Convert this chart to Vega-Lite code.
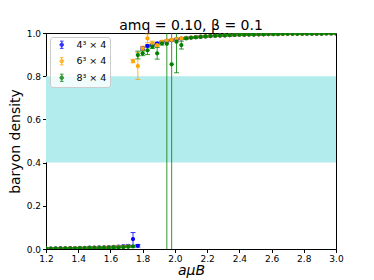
{
"$schema":"https://vega.github.io/schema/vega-lite/v6.json",
"width":290,"height":216,
"autosize":{"type":"none"},
"padding":{"left":46,"top":33,"right":38,"bottom":31},
"background":"white",
"title":{"text":"amq = 0.10, β = 0.1","fontSize":14,"fontWeight":"normal","font":"DejaVu Sans","color":"black","offset":-2,"dy":2,"anchor":"middle"},
"config":{
"view":{"stroke":"black","strokeWidth":1},
"axis":{"domainColor":"black","tickColor":"black","labelColor":"black","titleColor":"black","labelFont":"DejaVu Sans","titleFont":"DejaVu Sans","labelFontSize":9,"titleFontSize":14,"titleFontWeight":"normal","tickSize":3.5,"grid":false,"labelPadding":2,"labelOverlap":false,"labelFlush":false},
"legend":{"orient":"top-left","offset":4,"padding":3,"symbolOffset":4,"labelOffset":10,"rowPadding":4.5,"labelFontSize":9.5,"labelFont":"DejaVu Sans","labelColor":"black","strokeColor":"#cccccc","fillColor":"rgba(255,255,255,0.8)","cornerRadius":2.5,"symbolSize":64,"symbolStrokeWidth":1}
},
"datasets":{"d":[
{"L":"4³ × 4","x":1.20,"y":0.002,"e":0.003},{"L":"4³ × 4","x":1.23,"y":0.002,"e":0.003},{"L":"4³ × 4","x":1.26,"y":0.003,"e":0.003},{"L":"4³ × 4","x":1.29,"y":0.003,"e":0.003},{"L":"4³ × 4","x":1.32,"y":0.003,"e":0.003},{"L":"4³ × 4","x":1.35,"y":0.004,"e":0.003},{"L":"4³ × 4","x":1.38,"y":0.004,"e":0.003},{"L":"4³ × 4","x":1.41,"y":0.005,"e":0.003},{"L":"4³ × 4","x":1.44,"y":0.005,"e":0.003},{"L":"4³ × 4","x":1.47,"y":0.006,"e":0.003},{"L":"4³ × 4","x":1.50,"y":0.006,"e":0.003},{"L":"4³ × 4","x":1.53,"y":0.007,"e":0.003},{"L":"4³ × 4","x":1.56,"y":0.008,"e":0.003},{"L":"4³ × 4","x":1.59,"y":0.009,"e":0.003},{"L":"4³ × 4","x":1.62,"y":0.010,"e":0.003},{"L":"4³ × 4","x":1.65,"y":0.011,"e":0.003},{"L":"4³ × 4","x":1.68,"y":0.013,"e":0.003},{"L":"4³ × 4","x":1.71,"y":0.015,"e":0.004},{"L":"4³ × 4","x":1.74,"y":0.046,"e":0.03},{"L":"4³ × 4","x":1.77,"y":0.015,"e":0.006},{"L":"4³ × 4","x":1.80,"y":0.929,"e":0.006},{"L":"4³ × 4","x":1.83,"y":0.940,"e":0.005},{"L":"4³ × 4","x":1.86,"y":0.944,"e":0.005},{"L":"4³ × 4","x":1.89,"y":0.952,"e":0.004},{"L":"4³ × 4","x":1.92,"y":0.958,"e":0.004},{"L":"4³ × 4","x":1.95,"y":0.963,"e":0.004},{"L":"4³ × 4","x":1.98,"y":0.967,"e":0.004},{"L":"4³ × 4","x":2.01,"y":0.971,"e":0.004},{"L":"4³ × 4","x":2.04,"y":0.974,"e":0.003},{"L":"4³ × 4","x":2.07,"y":0.977,"e":0.003},{"L":"4³ × 4","x":2.10,"y":0.979,"e":0.003},{"L":"4³ × 4","x":2.13,"y":0.981,"e":0.003},{"L":"4³ × 4","x":2.16,"y":0.983,"e":0.003},{"L":"4³ × 4","x":2.19,"y":0.984,"e":0.003},{"L":"4³ × 4","x":2.22,"y":0.986,"e":0.003},{"L":"4³ × 4","x":2.25,"y":0.987,"e":0.003},{"L":"4³ × 4","x":2.28,"y":0.988,"e":0.003},{"L":"4³ × 4","x":2.31,"y":0.989,"e":0.003},{"L":"4³ × 4","x":2.34,"y":0.990,"e":0.003},{"L":"4³ × 4","x":2.37,"y":0.991,"e":0.003},{"L":"4³ × 4","x":2.40,"y":0.992,"e":0.003},{"L":"4³ × 4","x":2.43,"y":0.992,"e":0.003},{"L":"4³ × 4","x":2.46,"y":0.993,"e":0.003},{"L":"4³ × 4","x":2.49,"y":0.993,"e":0.003},{"L":"4³ × 4","x":2.52,"y":0.994,"e":0.003},{"L":"4³ × 4","x":2.55,"y":0.994,"e":0.003},{"L":"4³ × 4","x":2.58,"y":0.995,"e":0.003},{"L":"4³ × 4","x":2.61,"y":0.995,"e":0.003},{"L":"4³ × 4","x":2.64,"y":0.995,"e":0.003},{"L":"4³ × 4","x":2.67,"y":0.996,"e":0.003},{"L":"4³ × 4","x":2.70,"y":0.996,"e":0.003},{"L":"4³ × 4","x":2.73,"y":0.996,"e":0.003},{"L":"4³ × 4","x":2.76,"y":0.996,"e":0.003},{"L":"4³ × 4","x":2.79,"y":0.997,"e":0.003},{"L":"4³ × 4","x":2.82,"y":0.997,"e":0.003},{"L":"4³ × 4","x":2.85,"y":0.997,"e":0.003},{"L":"4³ × 4","x":2.88,"y":0.997,"e":0.003},{"L":"4³ × 4","x":2.91,"y":0.997,"e":0.003},{"L":"4³ × 4","x":2.94,"y":0.998,"e":0.003},{"L":"4³ × 4","x":2.97,"y":0.998,"e":0.003},{"L":"4³ × 4","x":3.00,"y":0.998,"e":0.003},
{"L":"6³ × 4","x":1.20,"y":0.002,"e":0.003},{"L":"6³ × 4","x":1.23,"y":0.002,"e":0.003},{"L":"6³ × 4","x":1.26,"y":0.002,"e":0.003},{"L":"6³ × 4","x":1.29,"y":0.003,"e":0.003},{"L":"6³ × 4","x":1.32,"y":0.003,"e":0.003},{"L":"6³ × 4","x":1.35,"y":0.003,"e":0.003},{"L":"6³ × 4","x":1.38,"y":0.004,"e":0.003},{"L":"6³ × 4","x":1.41,"y":0.004,"e":0.003},{"L":"6³ × 4","x":1.44,"y":0.005,"e":0.003},{"L":"6³ × 4","x":1.47,"y":0.005,"e":0.003},{"L":"6³ × 4","x":1.50,"y":0.006,"e":0.003},{"L":"6³ × 4","x":1.53,"y":0.006,"e":0.003},{"L":"6³ × 4","x":1.56,"y":0.007,"e":0.003},{"L":"6³ × 4","x":1.59,"y":0.008,"e":0.003},{"L":"6³ × 4","x":1.62,"y":0.009,"e":0.003},{"L":"6³ × 4","x":1.65,"y":0.010,"e":0.003},{"L":"6³ × 4","x":1.68,"y":0.011,"e":0.003},{"L":"6³ × 4","x":1.71,"y":0.012,"e":0.003},{"L":"6³ × 4","x":1.74,"y":0.870,"e":0.008},{"L":"6³ × 4","x":1.77,"y":0.847,"e":0.062},{"L":"6³ × 4","x":1.80,"y":0.929,"e":0.01},{"L":"6³ × 4","x":1.83,"y":0.975,"e":0.02},{"L":"6³ × 4","x":1.86,"y":0.952,"e":0.01},{"L":"6³ × 4","x":1.89,"y":0.944,"e":0.006},{"L":"6³ × 4","x":1.92,"y":0.960,"e":0.005},{"L":"6³ × 4","x":1.95,"y":0.965,"e":0.004},{"L":"6³ × 4","x":1.98,"y":0.968,"e":0.004},{"L":"6³ × 4","x":2.01,"y":0.972,"e":0.004},{"L":"6³ × 4","x":2.04,"y":0.975,"e":0.003},{"L":"6³ × 4","x":2.07,"y":0.977,"e":0.003},{"L":"6³ × 4","x":2.10,"y":0.979,"e":0.003},{"L":"6³ × 4","x":2.13,"y":0.981,"e":0.003},{"L":"6³ × 4","x":2.16,"y":0.983,"e":0.003},{"L":"6³ × 4","x":2.19,"y":0.984,"e":0.003},{"L":"6³ × 4","x":2.22,"y":0.986,"e":0.003},{"L":"6³ × 4","x":2.25,"y":0.987,"e":0.003},{"L":"6³ × 4","x":2.28,"y":0.988,"e":0.003},{"L":"6³ × 4","x":2.31,"y":0.989,"e":0.003},{"L":"6³ × 4","x":2.34,"y":0.990,"e":0.003},{"L":"6³ × 4","x":2.37,"y":0.991,"e":0.003},{"L":"6³ × 4","x":2.40,"y":0.992,"e":0.003},{"L":"6³ × 4","x":2.43,"y":0.992,"e":0.003},{"L":"6³ × 4","x":2.46,"y":0.993,"e":0.003},{"L":"6³ × 4","x":2.49,"y":0.993,"e":0.003},{"L":"6³ × 4","x":2.52,"y":0.994,"e":0.003},{"L":"6³ × 4","x":2.55,"y":0.994,"e":0.003},{"L":"6³ × 4","x":2.58,"y":0.995,"e":0.003},{"L":"6³ × 4","x":2.61,"y":0.995,"e":0.003},{"L":"6³ × 4","x":2.64,"y":0.995,"e":0.003},{"L":"6³ × 4","x":2.67,"y":0.996,"e":0.003},{"L":"6³ × 4","x":2.70,"y":0.996,"e":0.003},{"L":"6³ × 4","x":2.73,"y":0.996,"e":0.003},{"L":"6³ × 4","x":2.76,"y":0.996,"e":0.003},{"L":"6³ × 4","x":2.79,"y":0.997,"e":0.003},{"L":"6³ × 4","x":2.82,"y":0.997,"e":0.003},{"L":"6³ × 4","x":2.85,"y":0.997,"e":0.003},{"L":"6³ × 4","x":2.88,"y":0.997,"e":0.003},{"L":"6³ × 4","x":2.91,"y":0.997,"e":0.003},{"L":"6³ × 4","x":2.94,"y":0.998,"e":0.003},{"L":"6³ × 4","x":2.97,"y":0.998,"e":0.003},{"L":"6³ × 4","x":3.00,"y":0.998,"e":0.003},
{"L":"8³ × 4","x":1.20,"y":0.002,"e":0.003},{"L":"8³ × 4","x":1.23,"y":0.002,"e":0.003},{"L":"8³ × 4","x":1.26,"y":0.002,"e":0.003},{"L":"8³ × 4","x":1.29,"y":0.003,"e":0.003},{"L":"8³ × 4","x":1.32,"y":0.003,"e":0.003},{"L":"8³ × 4","x":1.35,"y":0.003,"e":0.003},{"L":"8³ × 4","x":1.38,"y":0.003,"e":0.003},{"L":"8³ × 4","x":1.41,"y":0.004,"e":0.003},{"L":"8³ × 4","x":1.44,"y":0.004,"e":0.003},{"L":"8³ × 4","x":1.47,"y":0.005,"e":0.003},{"L":"8³ × 4","x":1.50,"y":0.005,"e":0.003},{"L":"8³ × 4","x":1.53,"y":0.005,"e":0.003},{"L":"8³ × 4","x":1.56,"y":0.006,"e":0.003},{"L":"8³ × 4","x":1.59,"y":0.006,"e":0.003},{"L":"8³ × 4","x":1.62,"y":0.007,"e":0.003},{"L":"8³ × 4","x":1.65,"y":0.008,"e":0.003},{"L":"8³ × 4","x":1.68,"y":0.009,"e":0.003},{"L":"8³ × 4","x":1.71,"y":0.010,"e":0.003},{"L":"8³ × 4","x":1.74,"y":0.012,"e":0.003},{"L":"8³ × 4","x":1.77,"y":0.898,"e":0.018},{"L":"8³ × 4","x":1.80,"y":0.906,"e":0.011},{"L":"8³ × 4","x":1.83,"y":0.920,"e":0.02},{"L":"8³ × 4","x":1.86,"y":0.937,"e":0.009},{"L":"8³ × 4","x":1.89,"y":0.906,"e":0.027},{"L":"8³ × 4","x":1.92,"y":0.952,"e":0.008},{"L":"8³ × 4","x":1.95,"y":0.950,"e":1.2},{"L":"8³ × 4","x":1.98,"y":0.855,"e":1.0},{"L":"8³ × 4","x":2.01,"y":0.960,"e":0.144},{"L":"8³ × 4","x":2.04,"y":0.944,"e":0.018},{"L":"8³ × 4","x":2.07,"y":0.975,"e":0.004},{"L":"8³ × 4","x":2.10,"y":0.978,"e":0.003},{"L":"8³ × 4","x":2.13,"y":0.980,"e":0.003},{"L":"8³ × 4","x":2.16,"y":0.982,"e":0.003},{"L":"8³ × 4","x":2.19,"y":0.984,"e":0.003},{"L":"8³ × 4","x":2.22,"y":0.986,"e":0.003},{"L":"8³ × 4","x":2.25,"y":0.987,"e":0.003},{"L":"8³ × 4","x":2.28,"y":0.988,"e":0.003},{"L":"8³ × 4","x":2.31,"y":0.989,"e":0.003},{"L":"8³ × 4","x":2.34,"y":0.990,"e":0.003},{"L":"8³ × 4","x":2.37,"y":0.991,"e":0.003},{"L":"8³ × 4","x":2.40,"y":0.992,"e":0.003},{"L":"8³ × 4","x":2.43,"y":0.992,"e":0.003},{"L":"8³ × 4","x":2.46,"y":0.993,"e":0.003},{"L":"8³ × 4","x":2.49,"y":0.993,"e":0.003},{"L":"8³ × 4","x":2.52,"y":0.994,"e":0.003},{"L":"8³ × 4","x":2.55,"y":0.994,"e":0.003},{"L":"8³ × 4","x":2.58,"y":0.995,"e":0.003},{"L":"8³ × 4","x":2.61,"y":0.995,"e":0.003},{"L":"8³ × 4","x":2.64,"y":0.995,"e":0.003},{"L":"8³ × 4","x":2.67,"y":0.996,"e":0.003},{"L":"8³ × 4","x":2.70,"y":0.996,"e":0.003},{"L":"8³ × 4","x":2.73,"y":0.996,"e":0.003},{"L":"8³ × 4","x":2.76,"y":0.996,"e":0.003},{"L":"8³ × 4","x":2.79,"y":0.997,"e":0.003},{"L":"8³ × 4","x":2.82,"y":0.997,"e":0.003},{"L":"8³ × 4","x":2.85,"y":0.997,"e":0.003},{"L":"8³ × 4","x":2.88,"y":0.997,"e":0.003},{"L":"8³ × 4","x":2.91,"y":0.997,"e":0.003},{"L":"8³ × 4","x":2.94,"y":0.998,"e":0.003},{"L":"8³ × 4","x":2.97,"y":0.998,"e":0.003},{"L":"8³ × 4","x":3.00,"y":0.998,"e":0.003}
],
"band":[{"lo":0.4,"hi":0.8}]},
"layer":[
{"data":{"name":"band"},"mark":{"type":"rect","color":"#b3ecec"},
 "encoding":{"y":{"field":"lo","type":"quantitative","scale":{"domain":[0,1],"nice":false},"title":"baryon density","axis":{"values":[0,0.2,0.4,0.6,0.8,1.0],"format":".1f","titlePadding":4,"labelOverlap":false}},"y2":{"field":"hi"}}},
{"data":{"name":"d"},"mark":{"type":"errorbar","ticks":true,"size":5,"thickness":1,"clip":true,"opacity":0.8},
 "encoding":{
  "x":{"field":"x","type":"quantitative","scale":{"domain":[1.2,3.0],"nice":false,"zero":false},"title":"aμB","axis":{"values":[1.2,1.4,1.6,1.8,2.0,2.2,2.4,2.6,2.8,3.0],"format":".1f","titleFontStyle":"italic","titlePadding":0,"labelOverlap":false,"labelFlush":false}},
  "y":{"field":"y","type":"quantitative","scale":{"domain":[0,1],"nice":false},"title":"baryon density","axis":{"values":[0,0.2,0.4,0.6,0.8,1.0],"format":".1f","titlePadding":4,"labelOverlap":false}},
  "yError":{"field":"e"},
  "color":{"field":"L","type":"nominal","scale":{"domain":["4³ × 4","6³ × 4","8³ × 4"],"range":["#0000ff","#ffa500","#008000"]},
   "legend":{"title":null,"symbolType":"M-0.45,-0.9H0.45M0,-0.9V0.9M-0.45,0.9H0.45M0.45,0A0.45,0.45,0,1,1,-0.45,0A0.45,0.45,0,1,1,0.45,0Z",
    "encode":{"symbols":{"update":{"stroke":{"scale":"color","field":"value"},"fill":{"scale":"color","field":"value"},"strokeWidth":{"value":1},"opacity":{"value":1}}}}}}}},
{"data":{"name":"d"},"mark":{"type":"point","filled":true,"size":18,"opacity":1,"clip":true,"shape":"circle"},
 "encoding":{
  "x":{"field":"x","type":"quantitative","scale":{"domain":[1.2,3.0],"nice":false,"zero":false},"title":"aμB","axis":{"values":[1.2,1.4,1.6,1.8,2.0,2.2,2.4,2.6,2.8,3.0],"format":".1f","titleFontStyle":"italic","titlePadding":0,"labelOverlap":false,"labelFlush":false}},
  "y":{"field":"y","type":"quantitative","scale":{"domain":[0,1],"nice":false},"title":"baryon density","axis":{"values":[0,0.2,0.4,0.6,0.8,1.0],"format":".1f","titlePadding":4,"labelOverlap":false}},
  "color":{"field":"L","type":"nominal","scale":{"domain":["4³ × 4","6³ × 4","8³ × 4"],"range":["#0000ff","#ffa500","#008000"]},
   "legend":{"title":null,"symbolType":"M-0.45,-0.9H0.45M0,-0.9V0.9M-0.45,0.9H0.45M0.45,0A0.45,0.45,0,1,1,-0.45,0A0.45,0.45,0,1,1,0.45,0Z",
    "encode":{"symbols":{"update":{"stroke":{"scale":"color","field":"value"},"fill":{"scale":"color","field":"value"},"strokeWidth":{"value":1},"opacity":{"value":1}}}}}}}}
]
}
